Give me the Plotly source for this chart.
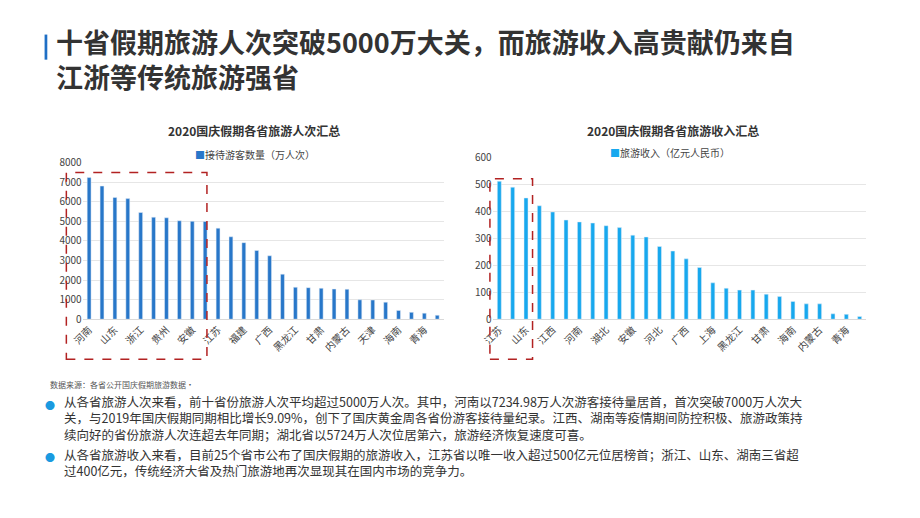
import plotly.graph_objects as go

prov1 = ["河南","四川","山东","湖南","浙江","湖北","贵州","江西","安徽","河北","江苏","云南","福建","重庆","广西","山西","黑龙江","吉林","甘肃","辽宁","内蒙古","宁夏","天津","新疆","海南","西藏","青海","北京"]
visitors = [7235,6800,6220,6160,5450,5210,5180,5030,5000,4990,4650,4210,3910,3510,3240,2300,1630,1610,1580,1540,1530,990,980,870,450,350,310,200]
prov2 = ["江苏","浙江","山东","湖南","江西","四川","河南","贵州","湖北","云南","安徽","福建","河北","重庆","广西","山西","上海","吉林","黑龙江","辽宁","甘肃","新疆","海南","宁夏","内蒙古","天津","青海","西藏"]
income = [512,490,450,421,398,368,361,357,347,340,312,305,270,253,224,192,135,115,108,108,93,84,66,57,57,20,18,10]

font = "Noto Sans CJK SC"
fig = go.Figure()
fig.add_bar(x=prov1, y=visitors, name="接待游客数量（万人次）", marker_color="#2877c9", width=0.3, xaxis="x", yaxis="y")
fig.add_bar(x=prov2, y=income, name="旅游收入（亿元人民币）", marker_color="#17a8ee", width=0.3, xaxis="x2", yaxis="y2")

ax = dict(type="category", tickangle=-45, tickfont=dict(size=10, color="#444"), showline=True, linecolor="#d9d9d9", ticks="")
fig.update_layout(
    width=920, height=518, margin=dict(l=0, r=0, t=0, b=0),
    paper_bgcolor="white", plot_bgcolor="white", showlegend=False, bargap=0.5,
    font=dict(family=font, color="#333"),
    xaxis=dict(domain=[0.068, 0.466], anchor="y", tickvals=prov1[::2], **ax),
    yaxis=dict(domain=[0.398, 0.71], range=[0, 8000], dtick=1000, gridcolor="#e6e6e6", tickfont=dict(size=10, color="#444"), anchor="x"),
    xaxis2=dict(domain=[0.52, 0.932], anchor="y2", tickvals=prov2[::2], **ax),
    yaxis2=dict(domain=[0.398, 0.72], range=[0, 600], dtick=100, gridcolor="#e6e6e6", tickfont=dict(size=10, color="#444"), anchor="x2"),
)
anns = [
    dict(x=0.036, y=0.995, text="<b>十省假期旅游人次突破5000万大关，而旅游收入高贵献仍来自<br>江浙等传统旅游强省</b>", font=dict(size=27, color="#333"), align="left"),
    dict(x=0.16, y=0.795, text="<b>2020国庆假期各省旅游人次汇总</b>", font=dict(size=12, color="#333")),
    dict(x=0.622, y=0.795, text="<b>2020国庆假期各省旅游收入汇总</b>", font=dict(size=12, color="#333")),
    dict(x=0.19, y=0.745, text="<span style='color:#2877c9'>■</span>接待游客数量（万人次）", font=dict(size=10, color="#444")),
    dict(x=0.647, y=0.75, text="<span style='color:#17a8ee'>■</span>旅游收入（亿元人民币）", font=dict(size=10, color="#444")),
    dict(x=0.03, y=0.282, text="数据来源：各省公开国庆假期旅游数据·", font=dict(size=8, color="#555")),
    dict(x=0.045, y=0.256, align="left", font=dict(size=12.5, color="#333"),
         text="从各省旅游人次来看，前十省份旅游人次平均超过5000万人次。其中，河南以7234.98万人次游客接待量居首，首次突破7000万人次大<br>关，与2019年国庆假期同期相比增长9.09%，创下了国庆黄金周各省份游客接待量纪录。江西、湖南等疫情期间防控积极、旅游政策持<br>续向好的省份旅游人次连超去年同期；湖北省以5724万人次位居第六，旅游经济恢复速度可喜。"),
    dict(x=0.045, y=0.152, align="left", font=dict(size=12.5, color="#333"),
         text="从各省旅游收入来看，目前25个省市公布了国庆假期的旅游收入，江苏省以唯一收入超过500亿元位居榜首；浙江、山东、湖南三省超<br>过400亿元，传统经济大省及热门旅游地再次显现其在国内市场的竞争力。"),
    dict(x=0.024, y=0.245, text="●", font=dict(size=10, color="#1a9ae0")),
    dict(x=0.024, y=0.141, text="●", font=dict(size=10, color="#1a9ae0")),
]
for a in anns:
    a.update(xref="paper", yref="paper", showarrow=False, xanchor="left", yanchor="top")
fig.update_layout(annotations=anns)
fig.add_shape(type="rect", xref="paper", yref="paper", x0=0.026, x1=0.029, y0=0.915, y1=0.965, fillcolor="#1f6fc5", line_width=0)
fig.add_shape(type="rect", xref="paper", yref="paper", x0=0.05, x1=0.205, y0=0.318, y1=0.69, line=dict(color="#b22222", width=1.5, dash="dash"))
fig.add_shape(type="rect", xref="paper", yref="paper", x0=0.517, x1=0.564, y0=0.318, y1=0.678, line=dict(color="#b22222", width=1.5, dash="dash"))
fig.write_html("out.html")
